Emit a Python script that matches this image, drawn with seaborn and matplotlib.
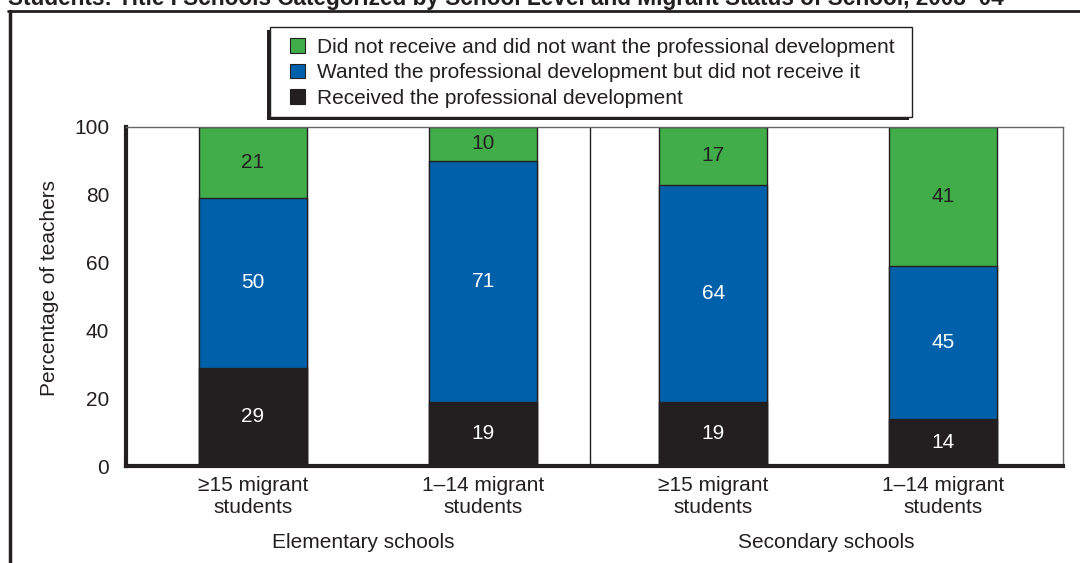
import matplotlib
matplotlib.use("Agg")
import matplotlib.pyplot as plt
import matplotlib.transforms as mtrans
from matplotlib.patches import Patch, Rectangle
from matplotlib.lines import Line2D
import pandas as pd
import seaborn as sns

# ---- data -------------------------------------------------------------
bar_ids = ["elem_15plus", "elem_1to14", "sec_15plus", "sec_1to14"]
tick_labels = ["≥15 migrant\nstudents", "1–14 migrant\nstudents",
               "≥15 migrant\nstudents", "1–14 migrant\nstudents"]
groups = ["Elementary schools", "Secondary schools"]

received = [29, 19, 19, 14]
wanted = [50, 71, 64, 45]
not_wanted = [21, 10, 17, 41]

series_labels = [
    "Did not receive and did not want the professional development",
    "Wanted the professional development but did not receive it",
    "Received the professional development",
]
title = ("Students: Title I Schools Categorized by School Level and "
         "Migrant Status of School, 2003–04")

# ---- style ------------------------------------------------------------
GREEN = "#41AD49"
BLUE = "#0061AA"
DARK = "#231F20"
FS = 15

sns.set_theme(style="white")
plt.rcParams["font.family"] = ["Liberation Sans", "DejaVu Sans"]
plt.rcParams["text.color"] = DARK
plt.rcParams["axes.labelcolor"] = DARK
plt.rcParams["xtick.color"] = DARK
plt.rcParams["ytick.color"] = DARK

df = pd.DataFrame({"bar": bar_ids, "received": received,
                   "wanted": wanted, "not_wanted": not_wanted})
df["top_wanted"] = df["received"] + df["wanted"]
df["top_all"] = df["top_wanted"] + df["not_wanted"]

W, H = 1080, 563
fig = plt.figure(figsize=(W / 100, H / 100), dpi=100)
ax = fig.add_axes([126 / W, 1 - 466 / H, (1063 - 126) / W, (466 - 127) / H])

# stacked bars drawn as layered cumulative totals
layers = [("top_all", GREEN), ("top_wanted", BLUE), ("received", DARK)]
for col, colr in layers:
    sns.barplot(data=df, x="bar", y=col, order=bar_ids, color=colr,
                saturation=1, width=0.47, edgecolor=DARK, linewidth=1,
                errorbar=None, ax=ax)

# segment value labels
for i in range(len(bar_ids)):
    r, w, n = received[i], wanted[i], not_wanted[i]
    ax.text(i, r / 2, str(r), ha="center", va="center", color="white", fontsize=FS)
    ax.text(i, r + w / 2, str(w), ha="center", va="center", color="white", fontsize=FS)
    ax.text(i, r + w + n / 2, str(n), ha="center", va="center", color=DARK, fontsize=FS)

ax.set_xlim(-0.552, 3.52)
ax.set_ylim(0, 100)
ax.set_yticks([0, 20, 40, 60, 80, 100])
ax.tick_params(axis="y", direction="in", length=14.4, width=1, pad=12, labelsize=FS)
ax.set_xticks(range(len(bar_ids)))
ax.set_xticklabels(tick_labels, linespacing=1.2)
ax.tick_params(axis="x", which="major", length=0, pad=7, labelsize=FS)
ax.set_xticks([0.5, 2.5], minor=True)
ax.tick_params(axis="x", which="minor", direction="in", length=14.4, width=1)
ax.set_xlabel("")

ax.set_ylabel("Percentage of teachers", fontsize=FS)
ax.yaxis.set_label_coords(-0.082, 0.525)
ax.yaxis.label.set_verticalalignment("center")

for side in ("left", "bottom"):
    ax.spines[side].set_linewidth(3)
    ax.spines[side].set_color(DARK)
for side in ("top", "right"):
    ax.spines[side].set_linewidth(1)
    ax.spines[side].set_color("#666666")

# divider between school levels
ax.axvline(1.465, color=DARK, lw=1, zorder=0.5)

# school-level captions
blend = mtrans.blended_transform_factory(ax.transData, ax.transAxes)
ax.text(0.48, -0.226, groups[0], transform=blend, ha="center", va="center", fontsize=FS)
ax.text(2.49, -0.226, groups[1], transform=blend, ha="center", va="center", fontsize=FS)

# title and frame
fig.text(8 / W, 1 - 4.7 / H, title, fontsize=16.3, fontweight="bold",
         ha="left", va="baseline")
fig.add_artist(Line2D([8 / W, 1], [1 - 11 / H] * 2, color=DARK, lw=2))
fig.add_artist(Line2D([9.5 / W] * 2, [1 - 11 / H, 0], color=DARK, lw=2.5))

# legend box with offset shadow
fig.add_artist(Rectangle((267 / W, 1 - 120 / H), 642 / W, 90 / H,
                         transform=fig.transFigure, facecolor=DARK,
                         edgecolor="none", zorder=1))
fig.add_artist(Rectangle((270 / W, 1 - 117 / H), 642 / W, 90 / H,
                         transform=fig.transFigure, facecolor="white",
                         edgecolor=DARK, lw=1, zorder=1.1))
handles = [Patch(facecolor=c, edgecolor=DARK, lw=0.8) for c in (GREEN, BLUE, DARK)]
fig.legend(handles, series_labels, loc="upper left",
           bbox_to_anchor=(290 / W, 1 - 38 / H), frameon=False, fontsize=FS,
           handlelength=0.7, handleheight=0.7, handletextpad=0.6,
           labelspacing=0.3, borderpad=0, borderaxespad=0)

fig.savefig("out.png", dpi=100)
